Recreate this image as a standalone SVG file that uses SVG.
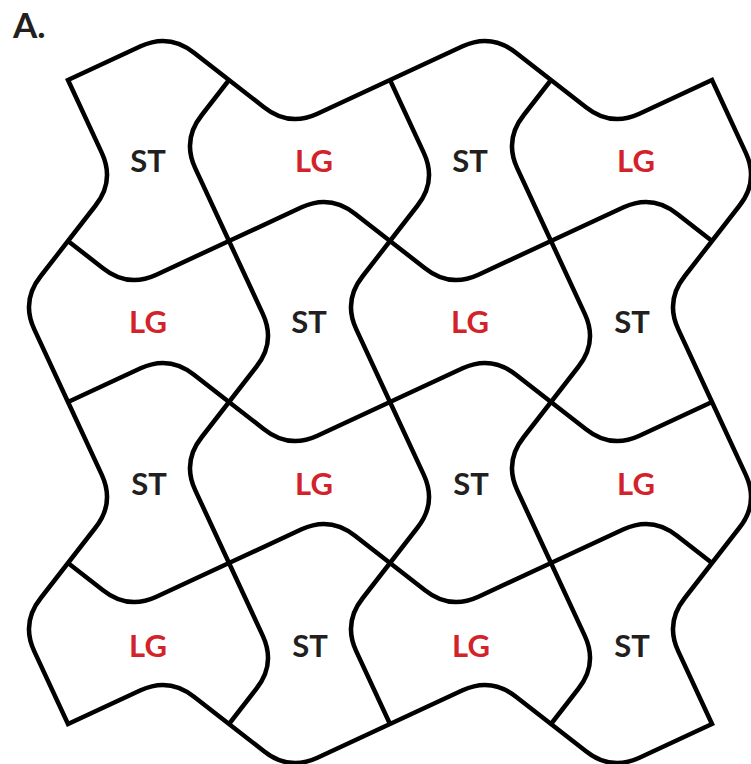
<svg xmlns="http://www.w3.org/2000/svg" width="751" height="764" viewBox="0 0 751 764">
<style>
.ln{fill:none;stroke:#000;stroke-width:4.5;stroke-linejoin:miter;stroke-linecap:butt}
.t{font-family:Lato,"Open Sans","Liberation Sans",sans-serif;font-weight:700;font-size:31px;text-anchor:middle}
.st{fill:#231f20}
.lg{fill:#d2232a}
</style>
<rect width="751" height="764" fill="#fff"/>
<text x="13" y="38" font-family="Lato,'Open Sans','Liberation Sans',sans-serif" font-weight="700" font-size="35" fill="#231f20">A.</text>
<g id="connectors">
<path class="ln" d="M68,80
l72.6,-33.7q28.7,-13.3 53.4,6.5l35,27.2
l35,27.2q24.7,19.8 53.4,6.5l72.6,-33.7
l72.6,-33.7q28.7,-13.3 53.4,6.5l35,27.2
l35,27.2q24.7,19.8 53.4,6.5l72.6,-33.7
l33.7,72.6q13.3,28.7 -6.5,53.4l-27.2,35
l-27.2,35q-19.8,24.7 -6.5,53.4l33.7,72.6
l33.7,72.6q13.3,28.7 -6.5,53.4l-27.2,35
l-27.2,35q-19.8,24.7 -6.5,53.4l33.7,72.6
l-72.6,33.7q-28.7,13.3 -53.4,-6.5l-35,-27.2
l-35,-27.2q-24.7,-19.8 -53.4,-6.5l-72.6,33.7
l-72.6,33.7q-28.7,13.3 -53.4,-6.5l-35,-27.2
l-35,-27.2q-24.7,-19.8 -53.4,-6.5l-72.6,33.7
l-33.7,-72.6q-13.3,-28.7 6.5,-53.4l27.2,-35
l27.2,-35q19.8,-24.7 6.5,-53.4l-33.7,-72.6
l-33.7,-72.6q-13.3,-28.7 6.5,-53.4l27.2,-35
l27.2,-35q19.8,-24.7 6.5,-53.4l-33.7,-72.6Z"/>
<path class="ln" d="M68,241
l35,27.2q24.7,19.8 53.4,6.5l72.6,-33.7
l72.6,-33.7q28.7,-13.3 53.4,6.5l35,27.2
l35,27.2q24.7,19.8 53.4,6.5l72.6,-33.7
l72.6,-33.7q28.7,-13.3 53.4,6.5l35,27.2"/>
<path class="ln" d="M68,402
l72.6,-33.7q28.7,-13.3 53.4,6.5l35,27.2
l35,27.2q24.7,19.8 53.4,6.5l72.6,-33.7
l72.6,-33.7q28.7,-13.3 53.4,6.5l35,27.2
l35,27.2q24.7,19.8 53.4,6.5l72.6,-33.7"/>
<path class="ln" d="M68,563
l35,27.2q24.7,19.8 53.4,6.5l72.6,-33.7
l72.6,-33.7q28.7,-13.3 53.4,6.5l35,27.2
l35,27.2q24.7,19.8 53.4,6.5l72.6,-33.7
l72.6,-33.7q28.7,-13.3 53.4,6.5l35,27.2"/>
<path class="ln" d="M229,80
l-27.2,35q-19.8,24.7 -6.5,53.4l33.7,72.6
l33.7,72.6q13.3,28.7 -6.5,53.4l-27.2,35
l-27.2,35q-19.8,24.7 -6.5,53.4l33.7,72.6
l33.7,72.6q13.3,28.7 -6.5,53.4l-27.2,35"/>
<path class="ln" d="M390,80
l33.7,72.6q13.3,28.7 -6.5,53.4l-27.2,35
l-27.2,35q-19.8,24.7 -6.5,53.4l33.7,72.6
l33.7,72.6q13.3,28.7 -6.5,53.4l-27.2,35
l-27.2,35q-19.8,24.7 -6.5,53.4l33.7,72.6"/>
<path class="ln" d="M551,80
l-27.2,35q-19.8,24.7 -6.5,53.4l33.7,72.6
l33.7,72.6q13.3,28.7 -6.5,53.4l-27.2,35
l-27.2,35q-19.8,24.7 -6.5,53.4l33.7,72.6
l33.7,72.6q13.3,28.7 -6.5,53.4l-27.2,35"/>
</g>
<g id="r0c0"><text class="t st" x="148" y="172">ST</text></g>
<g id="r0c1"><text class="t lg" x="314" y="172">LG</text></g>
<g id="r0c2"><text class="t st" x="470" y="172">ST</text></g>
<g id="r0c3"><text class="t lg" x="636" y="172">LG</text></g>
<g id="r1c0"><text class="t lg" x="148" y="333">LG</text></g>
<g id="r1c1"><text class="t st" x="309" y="333">ST</text></g>
<g id="r1c2"><text class="t lg" x="470" y="333">LG</text></g>
<g id="r1c3"><text class="t st" x="632" y="333">ST</text></g>
<g id="r2c0"><text class="t st" x="149" y="495">ST</text></g>
<g id="r2c1"><text class="t lg" x="314" y="495">LG</text></g>
<g id="r2c2"><text class="t st" x="471" y="495">ST</text></g>
<g id="r2c3"><text class="t lg" x="636" y="495">LG</text></g>
<g id="r3c0"><text class="t lg" x="148" y="657">LG</text></g>
<g id="r3c1"><text class="t st" x="310" y="657">ST</text></g>
<g id="r3c2"><text class="t lg" x="471" y="657">LG</text></g>
<g id="r3c3"><text class="t st" x="632" y="657">ST</text></g>
</svg>
